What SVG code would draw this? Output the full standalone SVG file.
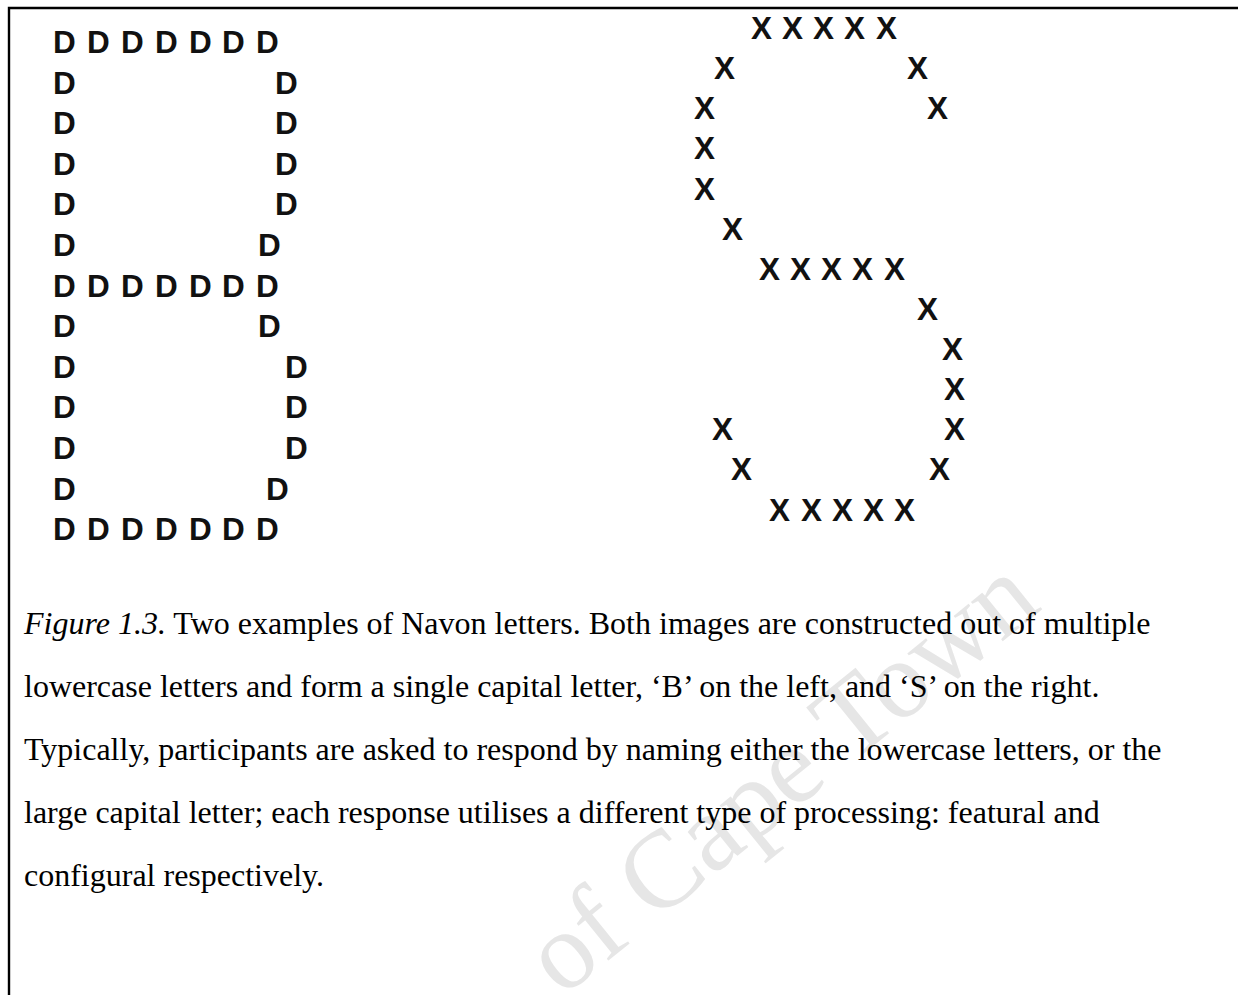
<svg xmlns="http://www.w3.org/2000/svg" width="1238" height="995" viewBox="0 0 1238 995">
<style>
.lt{font-family:"Liberation Sans",Arial,sans-serif;font-weight:bold;font-size:31.5px;fill:#111}
.cap{font-family:"Liberation Serif","Times New Roman",serif;font-size:32px;fill:#000}
.wm{font-family:"Liberation Serif","Times New Roman",serif;font-size:110px;fill:#e6e6e6}
</style>
<rect width="1238" height="995" fill="#fff"/>
<g id="watermark">
<text class="wm" transform="translate(562 998) rotate(-39)">of Cape Town</text>
</g>
<path id="frame" d="M9 995 V8 H1238" fill="none" stroke="#000" stroke-width="2.4"/>
<g id="letter-B">
<text class="lt" x="53 87 121 155 189 222 256" y="53">DDDDDDD</text>
<text class="lt" x="53 275" y="93.6">DD</text>
<text class="lt" x="53 275" y="134.2">DD</text>
<text class="lt" x="53 275" y="174.8">DD</text>
<text class="lt" x="53 275" y="215.4">DD</text>
<text class="lt" x="53 258" y="256">DD</text>
<text class="lt" x="53 87 121 155 189 222 256" y="296.6">DDDDDDD</text>
<text class="lt" x="53 258" y="337.2">DD</text>
<text class="lt" x="53 285" y="377.8">DD</text>
<text class="lt" x="53 285" y="418.4">DD</text>
<text class="lt" x="53 285" y="459">DD</text>
<text class="lt" x="53 266" y="499.6">DD</text>
<text class="lt" x="53 87 121 155 189 222 256" y="540">DDDDDDD</text>
</g>
<g id="letter-S">
<text class="lt" x="751 782 813 844 876" y="39">XXXXX</text>
<text class="lt" x="714 907" y="79">XX</text>
<text class="lt" x="694 927" y="119.2">XX</text>
<text class="lt" x="694" y="159.3">X</text>
<text class="lt" x="694" y="199.5">X</text>
<text class="lt" x="722" y="239.6">X</text>
<text class="lt" x="759 790 821 852 884" y="279.8">XXXXX</text>
<text class="lt" x="917" y="319.9">X</text>
<text class="lt" x="942" y="360">X</text>
<text class="lt" x="944" y="400.2">X</text>
<text class="lt" x="712 944" y="440.3">XX</text>
<text class="lt" x="731 929" y="480.4">XX</text>
<text class="lt" x="769 801 832 863 894" y="520.5">XXXXX</text>
</g>
<g id="caption">
<text class="cap" x="24" y="634"><tspan font-style="italic">Figure 1.3.</tspan> Two examples of Navon letters. Both images are constructed out of multiple</text>
<text class="cap" x="24" y="697">lowercase letters and form a single capital letter, ‘B’ on the left, and ‘S’ on the right.</text>
<text class="cap" x="24" y="760">Typically, participants are asked to respond by naming either the lowercase letters, or the</text>
<text class="cap" x="24" y="823">large capital letter; each response utilises a different type of processing: featural and</text>
<text class="cap" x="24" y="886">configural respectively.</text>
</g>
</svg>
